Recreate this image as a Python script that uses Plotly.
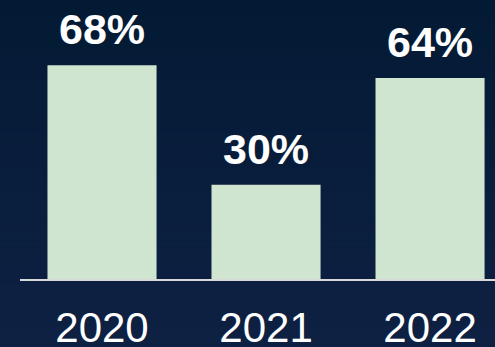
import plotly.graph_objects as go

# Share values per year
years = ["2020", "2021", "2022"]
shares = [68, 30, 64]
labels = [f"{v}%" for v in shares]

BAR_COLOR = "#cfe5cf"
TEXT_COLOR = "#ffffff"
FONT = "Liberation Sans, Arial, sans-serif"

fig = go.Figure(
    go.Bar(
        x=years,
        y=shares,
        width=0.665,
        marker=dict(color=BAR_COLOR, line=dict(width=0)),
        hoverinfo="x+y",
    )
)

# Value labels sitting above each bar (category index on the x axis)
for i, (v, lab) in enumerate(zip(shares, labels)):
    fig.add_annotation(
        x=i,
        y=v,
        xref="x",
        yref="y",
        text=f"<b>{lab}</b>",
        showarrow=False,
        yanchor="bottom",
        yshift=10,
        font=dict(family=FONT, size=43, color=TEXT_COLOR),
    )

# Vertical navy gradient behind the chart, built from thin horizontal bands
top = (3, 26, 52)
bottom = (15, 33, 68)
n = 60
shapes = []
for i in range(n):
    t = i / (n - 1)
    c = tuple(round(top[k] + (bottom[k] - top[k]) * t) for k in range(3))
    shapes.append(
        dict(
            type="rect",
            xref="paper",
            yref="paper",
            x0=-0.1,
            x1=1.1,
            y0=1.0 - (i + 1) * 1.3 / n,
            y1=1.0 - i * 1.3 / n,
            fillcolor=f"rgb{c}",
            line=dict(width=0),
            layer="below",
        )
    )

fig.update_layout(
    width=495,
    height=347,
    margin=dict(l=20, r=0, t=0, b=68, autoexpand=False),
    paper_bgcolor="#08203d",
    plot_bgcolor="rgba(0,0,0,0)",
    showlegend=False,
    shapes=shapes,
)

fig.update_xaxes(
    type="category",
    range=[-0.5, 2.396],
    automargin=False,
    showgrid=False,
    showline=True,
    linecolor="#d9d9d9",
    linewidth=2,
    ticks="outside",
    ticklen=11,
    tickcolor="rgba(0,0,0,0)",
    tickfont=dict(family=FONT, size=42, color=TEXT_COLOR),
    zeroline=False,
)
fig.update_yaxes(
    range=[0, 88.8],
    visible=False,
    showgrid=False,
    zeroline=False,
)

fig.write_html("out.html")
